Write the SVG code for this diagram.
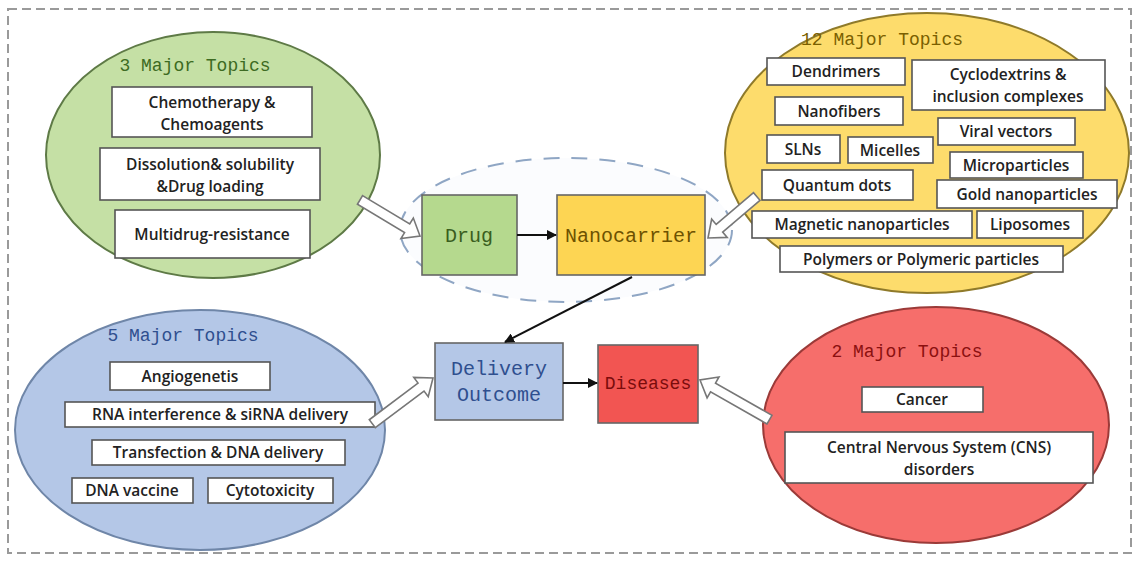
<svg xmlns="http://www.w3.org/2000/svg" width="1137" height="563" viewBox="0 0 1137 563">
<defs>
<style>
.frame{fill:none;stroke:#9a9a9a;stroke-width:2;stroke-dasharray:9 5}
.ell{stroke-width:2}
.item{fill:#fff;stroke:#555;stroke-width:1.6}
.it{font-family:"Open Sans","Liberation Sans",sans-serif;font-weight:600;font-size:15.5px;fill:#222;text-anchor:middle}
.ttl{font-family:"Liberation Mono","DejaVu Sans Mono",monospace;font-size:18px;text-anchor:middle}
.main{stroke:#666;stroke-width:1.6}
.mt{font-family:"Liberation Mono","DejaVu Sans Mono",monospace;font-size:20px;text-anchor:middle}
.ha{fill:#fff;stroke:#777;stroke-width:1.6;stroke-linejoin:miter}
.con{stroke:#111;stroke-width:2;fill:none;marker-end:url(#ah)}
</style>
<marker id="ah" viewBox="0 0 10 10" refX="9" refY="5" markerWidth="5" markerHeight="5" orient="auto">
<path d="M0,0 L10,5 L0,10 Z" fill="#111"/>
</marker>
</defs>
<rect width="1137" height="563" fill="#fff"/>
<rect class="frame" x="8" y="9" width="1123" height="544"/>

<g id="green-cluster">
<ellipse class="ell" cx="213" cy="155" rx="167" ry="123" fill="#c5e0a5" stroke="#5e7a46"/>
<text class="ttl" x="195" y="71" fill="#3d6b22">3 Major Topics</text>
<rect class="item" x="112" y="87" width="200" height="50"/>
<text class="it" x="212" y="108">Chemotherapy &amp;</text>
<text class="it" x="212" y="130">Chemoagents</text>
<rect class="item" x="100" y="148" width="220" height="52"/>
<text class="it" x="210" y="170">Dissolution&amp; solubility</text>
<text class="it" x="210" y="192">&amp;Drug loading</text>
<rect class="item" x="115" y="210" width="195" height="48"/>
<text class="it" x="212" y="240">Multidrug-resistance</text>
</g>

<g id="yellow-cluster">
<ellipse class="ell" cx="927" cy="153" rx="202" ry="140" fill="#fddc6c" stroke="#8f7a2a"/>
<text class="ttl" x="882" y="45" fill="#7a5f00">12 Major Topics</text>
<rect class="item" x="767" y="58" width="138" height="27"/>
<text class="it" x="836" y="77">Dendrimers</text>
<rect class="item" x="912" y="60" width="193" height="50"/>
<text class="it" x="1008" y="80">Cyclodextrins &amp;</text>
<text class="it" x="1008" y="102">inclusion complexes</text>
<rect class="item" x="775" y="97" width="128" height="28"/>
<text class="it" x="839" y="117">Nanofibers</text>
<rect class="item" x="938" y="118" width="137" height="27"/>
<text class="it" x="1006" y="137">Viral vectors</text>
<rect class="item" x="767" y="135" width="73" height="28"/>
<text class="it" x="803" y="155">SLNs</text>
<rect class="item" x="848" y="137" width="85" height="26"/>
<text class="it" x="890" y="156">Micelles</text>
<rect class="item" x="950" y="152" width="133" height="26"/>
<text class="it" x="1016" y="171">Microparticles</text>
<rect class="item" x="762" y="170" width="151" height="30"/>
<text class="it" x="837" y="191">Quantum dots</text>
<rect class="item" x="937" y="180" width="180" height="28"/>
<text class="it" x="1027" y="200">Gold nanoparticles</text>
<rect class="item" x="752" y="211" width="220" height="27"/>
<text class="it" x="862" y="230">Magnetic nanoparticles</text>
<rect class="item" x="977" y="211" width="106" height="27"/>
<text class="it" x="1030" y="230">Liposomes</text>
<rect class="item" x="780" y="246" width="283" height="26"/>
<text class="it" x="921" y="265">Polymers or Polymeric particles</text>
</g>

<g id="blue-cluster">
<ellipse class="ell" cx="200" cy="430" rx="185" ry="120" fill="#b4c7e7" stroke="#6f86a8"/>
<text class="ttl" x="183" y="341" fill="#2f4f8f">5 Major Topics</text>
<rect class="item" x="110" y="362" width="160" height="28"/>
<text class="it" x="190" y="382">Angiogenetis</text>
<rect class="item" x="65" y="402" width="310" height="25"/>
<text class="it" x="220" y="420">RNA interference &amp;  siRNA delivery</text>
<rect class="item" x="92" y="440" width="253" height="25"/>
<text class="it" x="218" y="458">Transfection &amp; DNA delivery</text>
<rect class="item" x="72" y="478" width="121" height="25"/>
<text class="it" x="132" y="496">DNA vaccine</text>
<rect class="item" x="208" y="478" width="125" height="25"/>
<text class="it" x="270" y="496">Cytotoxicity</text>
</g>

<g id="red-cluster">
<ellipse class="ell" cx="936" cy="425" rx="173" ry="118" fill="#f66e6b" stroke="#9b3a38"/>
<text class="ttl" x="907" y="357" fill="#8b1010">2 Major Topics</text>
<rect class="item" x="862" y="387" width="121" height="25"/>
<text class="it" x="922" y="405">Cancer</text>
<rect class="item" x="785" y="432" width="308" height="51"/>
<text class="it" x="939" y="453">Central Nervous System (CNS)</text>
<text class="it" x="939" y="475">disorders</text>
</g>

<g id="drug-nanocarrier-group">
<ellipse cx="566" cy="230" rx="166" ry="72" fill="#fbfcfe" stroke="#8fa6c4" stroke-width="2" stroke-dasharray="16 12"/>
</g>

<g id="drug">
<rect class="main" x="422" y="195" width="95" height="80" fill="#b5d98e"/>
<text class="mt" x="469" y="242" fill="#3a5e1e">Drug</text>
</g>
<g id="nanocarrier">
<rect class="main" x="557" y="195" width="148" height="80" fill="#fdd553"/>
<text class="mt" x="631" y="242" fill="#6e5200">Nanocarrier</text>
</g>
<g id="delivery-outcome">
<rect class="main" x="435" y="343" width="128" height="77" fill="#b4c7e7"/>
<text class="mt" x="499" y="375" fill="#2f4f8f">Delivery</text>
<text class="mt" x="499" y="401" fill="#2f4f8f">Outcome</text>
</g>
<g id="diseases">
<rect class="main" x="598" y="345" width="100" height="78" fill="#f25552"/>
<text class="mt" x="648" y="389" fill="#7a0c0c" style="font-size:18px">Diseases</text>
</g>

<g id="connectors">
<line class="con" x1="517" y1="235" x2="556" y2="235"/>
<line class="con" x1="632" y1="277" x2="505" y2="342"/>
<line class="con" x1="563" y1="383" x2="597" y2="383"/>
<path class="ha" transform="translate(420,236) rotate(31)" d="M-70,-5 L-15,-5 L-15,-12 L0,0 L-15,12 L-15,5 L-70,5 Z"/>
<path class="ha" transform="translate(708,238) rotate(139.6)" d="M-64,-5 L-15,-5 L-15,-12 L0,0 L-15,12 L-15,5 L-64,5 Z"/>
<path class="ha" transform="translate(433,378) rotate(-37)" d="M-76,-5 L-15,-5 L-15,-12 L0,0 L-15,12 L-15,5 L-76,5 Z"/>
<path class="ha" transform="translate(700,380) rotate(209.7)" d="M-80,-5 L-15,-5 L-15,-12 L0,0 L-15,12 L-15,5 L-80,5 Z"/>
</g>
</svg>
